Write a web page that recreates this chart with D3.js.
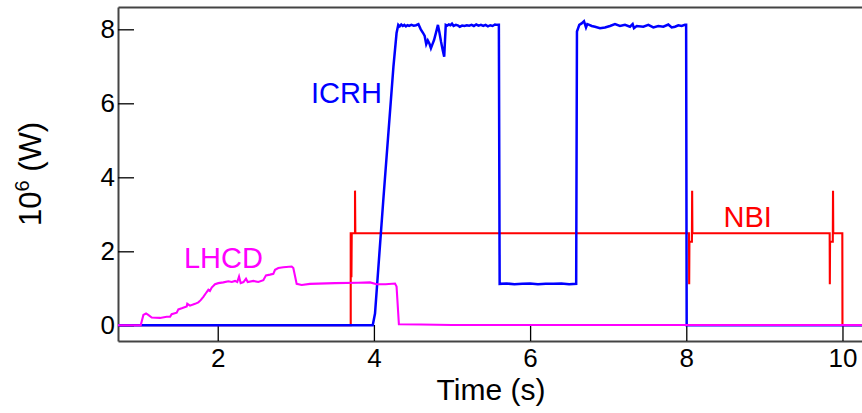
<!DOCTYPE html>
<html>
<head>
<meta charset="utf-8">
<script src="https://cdn.jsdelivr.net/npm/d3@7"></script>
<style>
  html, body { margin: 0; padding: 0; background: #fff; }
  svg { display: block; }
  text { font-family: Arial, "Liberation Sans", Helvetica, sans-serif; }
</style>
</head>
<body>
<svg id="chart" width="862" height="413"></svg>
<script>
// ---------- data (time in s, power in 10^6 W) ----------
const xTicks = [2, 4, 6, 8, 10];
const yTicks = [0, 2, 4, 6, 8];
const seriesNames = ["NBI", "ICRH", "LHCD"];

const nbi = [
  [0.72, 0], [3.703, 0], [3.703, 2.49], [3.712, 2.49], [3.712, 1.3], [3.716, 2.49],
  [3.758, 2.49], [3.758, 3.64], [3.762, 2.49],
  [8.035, 2.49], [8.037, 1.11], [8.040, 2.26], [8.072, 2.26], [8.075, 3.64], [8.078, 2.49],
  [9.836, 2.49], [9.838, 1.11], [9.841, 2.26], [9.876, 2.26], [9.879, 3.64], [9.882, 2.49],
  [9.998, 2.49], [10.0, 0], [10.3, 0]
];

const icrh = [
  [0.72, 0], [3.985, 0], [4.014, 0.32], [4.12, 3.38], [4.25, 6.99], [4.29, 7.9], [4.312, 8.12],
  [4.33, 8.08], [4.35, 8.13], [4.37, 8.09], [4.39, 8.12], [4.41, 8.08], [4.43, 8.11], [4.45, 8.09],
  [4.48, 8.12], [4.51, 8.10], [4.54, 8.11], [4.57, 8.14], [4.60, 8.0], [4.63, 7.9], [4.65, 7.82],
  [4.67, 7.6], [4.69, 7.7], [4.71, 7.62], [4.73, 7.49], [4.75, 7.6], [4.77, 7.71], [4.80, 7.95],
  [4.82, 8.12], [4.84, 7.9], [4.86, 7.66], [4.88, 7.45], [4.90, 7.26], [4.92, 8.12], [4.94, 8.10],
  [4.96, 8.13], [4.98, 8.11], [5.00, 8.15], [5.02, 8.09], [5.05, 8.12], [5.08, 8.10], [5.10, 8.07],
  [5.13, 8.10], [5.16, 8.09], [5.19, 8.11], [5.22, 8.10], [5.25, 8.12], [5.28, 8.09], [5.31, 8.13],
  [5.34, 8.10], [5.37, 8.12], [5.40, 8.09], [5.43, 8.12], [5.46, 8.08], [5.49, 8.11], [5.52, 8.09],
  [5.55, 8.13], [5.58, 8.12], [5.60, 8.12],
  [5.61, 1.12], [5.70, 1.13], [5.80, 1.11], [5.90, 1.12], [6.00, 1.13], [6.10, 1.11], [6.20, 1.12],
  [6.30, 1.12], [6.40, 1.13], [6.50, 1.11], [6.59, 1.12],
  [6.60, 7.94], [6.63, 8.12], [6.66, 8.16], [6.69, 8.22], [6.716, 8.05], [6.733, 8.14], [6.758, 8.12],
  [6.789, 8.09], [6.831, 8.07], [6.895, 8.03], [6.959, 8.05], [7.023, 8.09], [7.087, 8.14],
  [7.151, 8.09], [7.215, 8.12], [7.279, 8.07], [7.313, 8.14], [7.330, 8.03], [7.365, 8.09],
  [7.450, 8.07], [7.514, 8.12], [7.578, 8.05], [7.642, 8.09], [7.706, 8.07], [7.770, 8.13],
  [7.813, 8.05], [7.855, 8.07], [7.898, 8.11], [7.941, 8.09], [7.983, 8.12], [7.998, 8.12],
  [8.005, 0], [10.3, 0]
];

const lhcd = [
  [0.72, 0], [1.014, 0], [1.048, 0.28], [1.082, 0.32], [1.11, 0.28], [1.155, 0.21], [1.26, 0.20],
  [1.347, 0.23], [1.39, 0.23], [1.41, 0.30], [1.475, 0.34], [1.496, 0.43], [1.539, 0.46],
  [1.603, 0.51], [1.61, 0.58], [1.645, 0.53], [1.709, 0.58], [1.752, 0.62], [1.782, 0.68],
  [1.816, 0.77], [1.859, 0.90], [1.88, 0.96], [1.90, 0.93], [1.923, 1.02], [1.965, 1.11],
  [2.008, 1.14], [2.072, 1.16], [2.136, 1.19], [2.18, 1.17], [2.222, 1.20], [2.25, 1.17],
  [2.273, 1.32], [2.294, 1.14], [2.33, 1.17], [2.362, 1.26], [2.384, 1.17], [2.456, 1.20],
  [2.52, 1.17], [2.584, 1.22], [2.618, 1.35], [2.67, 1.37], [2.712, 1.39], [2.734, 1.50],
  [2.776, 1.55], [2.84, 1.57], [2.947, 1.59], [2.968, 1.55], [3.011, 1.12], [3.075, 1.09],
  [3.18, 1.12], [3.5, 1.14], [3.8, 1.15], [3.95, 1.16], [4.036, 1.11], [4.15, 1.11], [4.27, 1.13],
  [4.29, 1.05], [4.32, 0.03], [4.6, 0.02], [5.0, 0.01], [10.3, 0.01]
];

// ---------- layout ----------
const svg = d3.select("#chart");
const mLeft = 118, mTop = 7, mRight = 862, mBottom = 341;

const x = d3.scaleLinear().domain([0.723, 10.25]).range([mLeft, mRight]);
const y = d3.scaleLinear().domain([-0.424, 8.603]).range([mBottom, mTop]);

svg.append("clipPath").attr("id", "plotclip")
  .append("rect").attr("x", mLeft).attr("y", mTop).attr("width", mRight - mLeft).attr("height", mBottom - mTop);

// ticks (drawn under data)
const gx = svg.append("g").attr("transform", `translate(0,${mBottom})`)
  .call(d3.axisBottom(x).tickValues(xTicks).tickSizeInner(-16).tickSizeOuter(0).tickPadding(8).tickFormat(d3.format("d")));
const gy = svg.append("g").attr("transform", `translate(${mLeft},0)`)
  .call(d3.axisLeft(y).tickValues(yTicks).tickSizeInner(-16).tickSizeOuter(0).tickPadding(3).tickFormat(d3.format("d")));
const gt = svg.append("g").attr("transform", `translate(0,${mTop})`)
  .call(d3.axisTop(x).tickValues([]).tickSizeOuter(0));

[gx, gy, gt].forEach(g => {
  g.select(".domain").attr("stroke", "#444").attr("stroke-width", 2);
  g.selectAll(".tick line").attr("stroke", "#000").attr("stroke-width", 1.3);
  g.selectAll(".tick text").attr("fill", "#000").style("font-size", "26px")
    .style("font-family", "Arial, 'Liberation Sans', sans-serif");
});

// data lines
const line = d3.line().x(d => x(d[0])).y(d => y(d[1]));
const plot = svg.append("g").attr("clip-path", "url(#plotclip)");
const series = [
  { name: "NBI", data: nbi, color: "#ff0000", width: 2.1 },
  { name: "ICRH", data: icrh, color: "#0000ff", width: 2.5 },
  { name: "LHCD", data: lhcd, color: "#ff00ff", width: 2.1 }
];
plot.selectAll("path.series").data(series).join("path")
  .attr("class", "series")
  .attr("fill", "none")
  .attr("stroke", d => d.color)
  .attr("stroke-width", d => d.width)
  .attr("stroke-linejoin", "miter")
  .attr("d", d => line(d.data));

// series labels
const labels = [
  { text: "ICRH", t: 3.195, v: 6.0, color: "#0000ff" },
  { text: "LHCD", t: 1.568, v: 1.55, color: "#ff00ff" },
  { text: "NBI", t: 8.476, v: 2.65, color: "#ff0000" }
];
svg.selectAll("text.lab").data(labels).join("text")
  .attr("class", "lab")
  .attr("x", d => x(d.t)).attr("y", d => y(d.v))
  .attr("fill", d => d.color)
  .style("font-size", "29px")
  .text(d => d.text);

// axis titles
svg.append("text")
  .attr("x", 491).attr("y", 400)
  .attr("text-anchor", "middle")
  .style("font-size", "30px")
  .attr("fill", "#000")
  .text("Time (s)");

const yt = svg.append("text")
  .attr("transform", "translate(41,174) rotate(-90)")
  .attr("text-anchor", "middle")
  .style("font-size", "31px")
  .attr("fill", "#000");
yt.append("tspan").text("10");
yt.append("tspan").attr("dy", -12).style("font-size", "20px").text("6");
yt.append("tspan").attr("dy", 12).text(" (W)");
</script>
</body>
</html>
